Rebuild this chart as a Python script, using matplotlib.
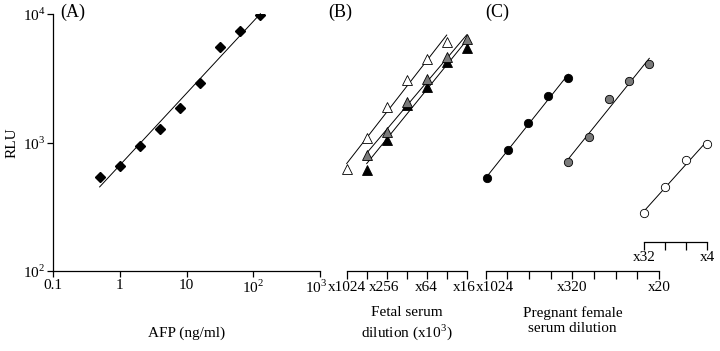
import numpy as np
import matplotlib.pyplot as plt
from matplotlib.transforms import offset_copy

plt.rcParams['font.family'] = 'Liberation Serif'
plt.rcParams['mathtext.fontset'] = 'custom'
plt.rcParams['mathtext.rm'] = 'Liberation Serif'
plt.rcParams['font.size'] = 11

# (A) AFP standard curve
afp_conc = [0.5, 1, 2, 4, 8, 16, 32, 64, 128]
afp_rlu = [540, 656, 934, 1268, 1847, 2884, 5510, 7410, 9900]
afp_ticks = [0.1, 1, 10, 100, 1000]
afp_labels = ['0.1', '1', '10', '10$^2$', '10$^3$']
rlu_ticks = [100, 1000, 10000]
rlu_labels = ['10$^2$', '10$^3$', '10$^4$']

# (B) fetal serum, two-fold dilutions
fetal_dil_white = [1024, 512, 256, 128, 64, 32]
fetal_rlu_white = [622, 1079, 1879, 3049, 4487, 6030]
fetal_dil_gray = [512, 256, 128, 64, 32, 16]
fetal_rlu_gray = [800, 1213, 2056, 3105, 4655, 6385]
fetal_dil_black = [512, 256, 128, 64, 32, 16]
fetal_rlu_black = [611, 1045, 1959, 2717, 4207, 5470]
fetal_ticks = [1024, 512, 256, 128, 64, 32, 16]
fetal_labels = ['x1024', '', 'x256', '', 'x64', '', 'x16']

# (C) pregnant female serum, dilution steps
preg_step_black = [0, 1, 2, 3, 4]
preg_rlu_black = [526, 875, 1410, 2311, 3160]
preg_step_gray = [4, 5, 6, 7, 8]
preg_rlu_gray = [701, 1109, 2180, 3011, 4060]
preg_step_white = [0, 1, 2, 3]
preg_rlu_white = [281, 453, 731, 968]
preg_labels = ['x1024', '', '', '', 'x320', '', '', '', 'x20']
preg_labels2 = ['x32', '', '', 'x4']

W, H = 720, 351
Y_TOP, Y_BOT = 14, 271


def box(x0, x1):
    return [x0 / W, (H - Y_BOT) / H, (x1 - x0) / W, (Y_BOT - Y_TOP) / H]


def log_fit(ax, x, y, logx=True):
    xx = np.log10(x) if logx else np.asarray(x, float)
    k, b = np.polyfit(xx, np.log10(y), 1)
    xs = np.array([xx[0], xx[-1]])
    xp = 10 ** xs if logx else xs
    ax.plot(xp, 10 ** (k * xs + b), color='black', lw=0.7, clip_on=False, zorder=2)


def bare(ax, bottom=True):
    for s in ['top', 'right', 'left']:
        ax.spines[s].set_visible(False)
    ax.spines['bottom'].set_visible(bottom)
    ax.spines['bottom'].set_linewidth(0.9)
    ax.set_yscale('log')
    ax.set_ylim(100, 10000)
    ax.set_yticks([])
    ax.minorticks_off()
    ax.patch.set_alpha(0)
    ax.tick_params(axis='x', direction='out', length=5.5, width=0.9, pad=1.5,
                   labelsize=11)


def nudge(label, dx):
    # shift a tick label sideways by dx pixels
    label.set_transform(offset_copy(label.get_transform(), fig=fig,
                                    x=dx, y=0, units='dots'))


fig = plt.figure(figsize=(7.2, 3.51), dpi=100)

# panel A
ax_a = fig.add_axes(box(53, 320))
ax_a.set_xscale('log')
ax_a.set_yscale('log')
ax_a.set_xlim(0.1, 1000)
ax_a.set_ylim(100, 10000)
ax_a.spines['top'].set_visible(False)
ax_a.spines['right'].set_visible(False)
for s in ['left', 'bottom']:
    ax_a.spines[s].set_linewidth(0.9)
ax_a.set_xticks(afp_ticks, afp_labels)
ax_a.set_yticks(rlu_ticks, rlu_labels)
ax_a.minorticks_off()
ax_a.tick_params(direction='out', length=4, width=0.9, pad=1.5, labelsize=11)
ax_a.plot(afp_conc, afp_rlu, 'D', color='black', ms=5.5, zorder=3)
log_fit(ax_a, afp_conc, afp_rlu)
ax_a.set_xlabel('AFP (ng/ml)', labelpad=22)
ax_a.set_ylabel('RLU', labelpad=3)
nudge(ax_a.get_xticklabels()[-1], -4)

# panel B
ax_b = fig.add_axes(box(346.7, 466.7))
bare(ax_b)
ax_b.set_xscale('log', base=2)
ax_b.set_xlim(1024, 16)
ax_b.set_xticks(fetal_ticks, fetal_labels)
ax_b.minorticks_off()
for xs, ys, fc in [(fetal_dil_white, fetal_rlu_white, 'white'),
                   (fetal_dil_black, fetal_rlu_black, 'black'),
                   (fetal_dil_gray, fetal_rlu_gray, '#7a7a7a')]:
    ax_b.plot(xs, ys, '^', mfc=fc, mec='black', mew=0.6, ms=7.5,
              clip_on=False, zorder=3)
    log_fit(ax_b, xs, ys)
ax_b.set_xlabel('Fetal serum\ndilution (x10$^3$)', labelpad=9, linespacing=1.2)
nudge(ax_b.get_xticklabels()[2], -3)
nudge(ax_b.get_xticklabels()[-1], -2)

# panel C, rulers
ax_cr = fig.add_axes(box(485.7, 659))
bare(ax_cr)
ax_cr.set_xlim(0, 8)
ax_cr.set_xticks(range(9), preg_labels)
ax_cr.set_xlabel('Pregnant female\nserum dilution', labelpad=9, linespacing=1.2)
nudge(ax_cr.get_xticklabels()[0], 9)

ax_c2 = fig.add_axes(box(644, 707))
bare(ax_c2)
ax_c2.set_xlim(0, 3)
ax_c2.spines['bottom'].set_position(('axes', (Y_BOT - 241.7) / (Y_BOT - Y_TOP)))
ax_c2.set_xticks(range(4), preg_labels2)
ax_c2.plot(preg_step_white, preg_rlu_white, 'o', mfc='white', mec='black',
           mew=0.6, ms=6, clip_on=False, zorder=3)
log_fit(ax_c2, preg_step_white, preg_rlu_white, logx=False)

# panel C, data for black and gray sera
ax_c = fig.add_axes(box(487.3, 649.3))
bare(ax_c, bottom=False)
ax_c.set_xlim(0, 8)
ax_c.set_xticks([])
for xs, ys, fc in [(preg_step_black, preg_rlu_black, 'black'),
                   (preg_step_gray, preg_rlu_gray, '#7a7a7a')]:
    ax_c.plot(xs, ys, 'o', mfc=fc, mec='black', mew=0.6, ms=6,
              clip_on=False, zorder=3)
    log_fit(ax_c, xs, ys, logx=False)

for lab, x in [('(A)', 60), ('(B)', 328), ('(C)', 485)]:
    fig.text(x / W, 1 - 12 / H, lab, fontsize=13, ha='left', va='center')

fig.savefig('out.png', dpi=100)
